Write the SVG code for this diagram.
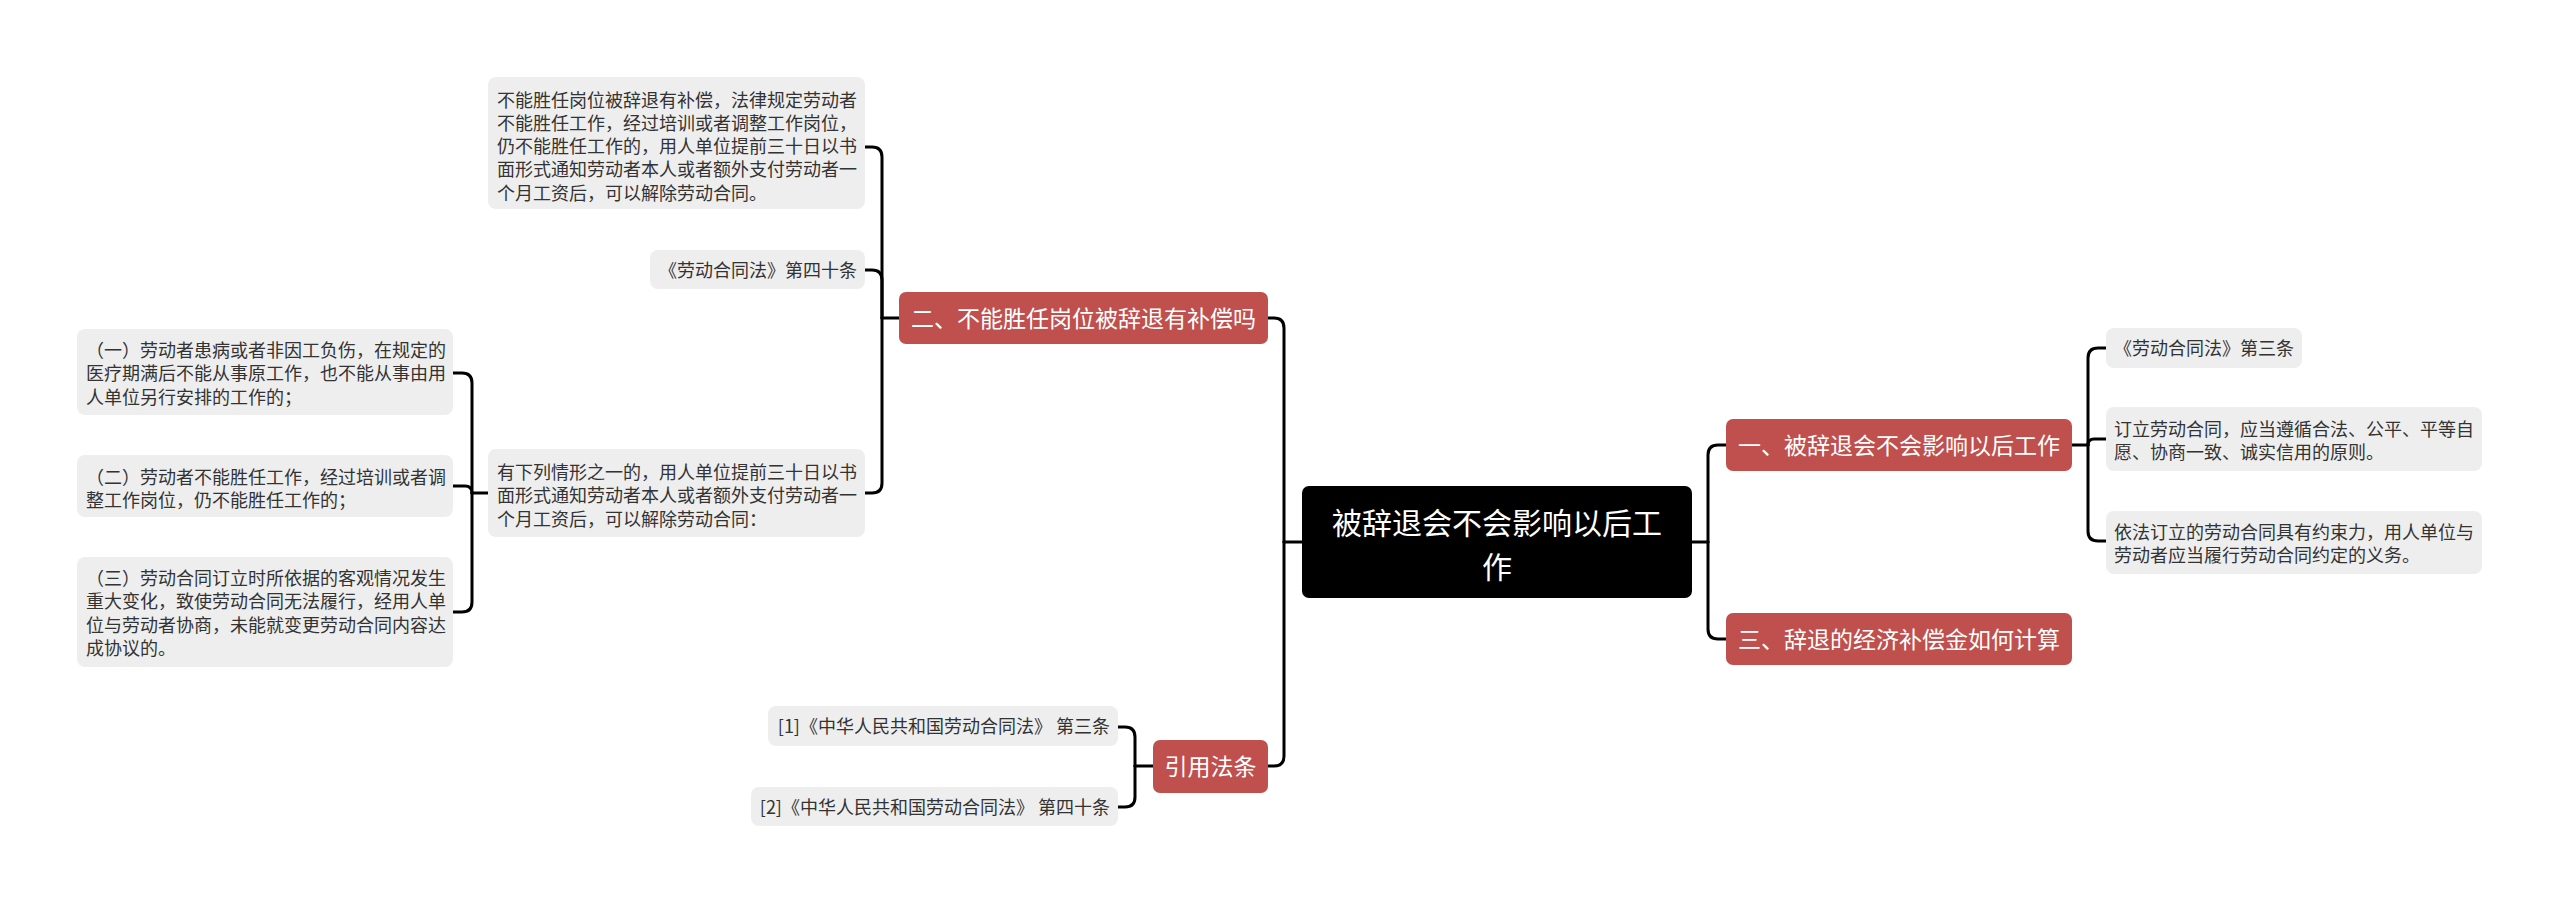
<svg xmlns="http://www.w3.org/2000/svg" width="2560" height="904" viewBox="0 0 2560 904">
<style>
text{font-family:"Noto Sans CJK SC","Noto Sans",sans-serif}
.leaf{fill:#eeeeee}
.lt{font-size:18px;fill:#333333}
.red{fill:#c0504d}
.rt{font-size:23px;fill:#ffffff;text-anchor:middle}
.ct{font-size:30px;fill:#ffffff;text-anchor:middle}
.ln{fill:none;stroke:#000000;stroke-width:3;stroke-linecap:round}
</style>
<rect width="2560" height="904" fill="#ffffff"/>
<g id="connectors">
<path class="ln" d="M1302,542 H1284"/>
<path class="ln" d="M1284,542 V328 Q1284,318 1274,318 H1268"/>
<path class="ln" d="M1284,542 V756 Q1284,766 1274,766 H1268"/>
<path class="ln" d="M1692,542 H1708"/>
<path class="ln" d="M1708,542 V455 Q1708,445 1718,445 H1726"/>
<path class="ln" d="M1708,542 V629 Q1708,639 1718,639 H1726"/>
<path class="ln" d="M899,318 H882"/>
<path class="ln" d="M882,318 V157 Q882,147 872,147 H865"/>
<path class="ln" d="M882,318 V280 Q882,270 872,270 H865"/>
<path class="ln" d="M882,318 V483 Q882,493 872,493 H865"/>
<path class="ln" d="M488,493 H472"/>
<path class="ln" d="M472,493 V383 Q472,373 462,373 H453"/>
<path class="ln" d="M472,493 Q472,486 465,486 H453"/>
<path class="ln" d="M472,493 V602 Q472,612 462,612 H453"/>
<path class="ln" d="M1153,766 H1135"/>
<path class="ln" d="M1135,766 V737 Q1135,727 1125,727 H1118"/>
<path class="ln" d="M1135,766 V797 Q1135,807 1125,807 H1118"/>
<path class="ln" d="M2072,445 H2088"/>
<path class="ln" d="M2088,445 V358 Q2088,348 2098,348 H2106"/>
<path class="ln" d="M2088,445 Q2088,439 2094,439 H2106"/>
<path class="ln" d="M2088,445 V531 Q2088,541 2098,541 H2106"/>
</g>
<g id="center">
<rect x="1302" y="486" width="390" height="112" rx="7" fill="#000000"/>
<text class="ct" x="1497" y="534">被辞退会不会影响以后工<tspan x="1497" dy="43.5">作</tspan></text>
</g>
<g id="b2">
<rect class="red" x="899" y="292" width="369" height="52" rx="7"/>
<text class="rt" x="1083.5" y="326.5">二、不能胜任岗位被辞退有补偿吗</text>
</g>
<g id="b2-leaf1">
<rect class="leaf" x="488" y="77" width="377" height="132" rx="8"/>
<text class="lt" x="497" y="106.5">不能胜任岗位被辞退有补偿，法律规定劳动者<tspan x="497" dy="23.3">不能胜任工作，经过培训或者调整工作岗位，</tspan><tspan x="497" dy="23.3">仍不能胜任工作的，用人单位提前三十日以书</tspan><tspan x="497" dy="23.3">面形式通知劳动者本人或者额外支付劳动者一</tspan><tspan x="497" dy="23.3">个月工资后，可以解除劳动合同。</tspan></text>
</g>
<g id="b2-leaf2">
<rect class="leaf" x="650" y="250" width="215" height="39" rx="8"/>
<text class="lt" x="857" y="276.5" text-anchor="end">《劳动合同法》第四十条</text>
</g>
<g id="b2-leaf3">
<rect class="leaf" x="488" y="449" width="377" height="88" rx="8"/>
<text class="lt" x="497" y="478.5">有下列情形之一的，用人单位提前三十日以书<tspan x="497" dy="23.5">面形式通知劳动者本人或者额外支付劳动者一</tspan><tspan x="497" dy="23.5">个月工资后，可以解除劳动合同：</tspan></text>
</g>
<g id="sub1">
<rect class="leaf" x="77" y="329" width="376" height="86" rx="8"/>
<text class="lt" x="86" y="356.5">（一）劳动者患病或者非因工负伤，在规定的<tspan x="86" dy="23.5">医疗期满后不能从事原工作，也不能从事由用</tspan><tspan x="86" dy="23.5">人单位另行安排的工作的；</tspan></text>
</g>
<g id="sub2">
<rect class="leaf" x="77" y="455" width="376" height="62" rx="8"/>
<text class="lt" x="86" y="483.5">（二）劳动者不能胜任工作，经过培训或者调<tspan x="86" dy="23.5">整工作岗位，仍不能胜任工作的；</tspan></text>
</g>
<g id="sub3">
<rect class="leaf" x="77" y="557" width="376" height="110" rx="8"/>
<text class="lt" x="86" y="584.5">（三）劳动合同订立时所依据的客观情况发生<tspan x="86" dy="23.5">重大变化，致使劳动合同无法履行，经用人单</tspan><tspan x="86" dy="23.5">位与劳动者协商，未能就变更劳动合同内容达</tspan><tspan x="86" dy="23.5">成协议的。</tspan></text>
</g>
<g id="ref">
<rect class="red" x="1153" y="740" width="115" height="53" rx="7"/>
<text class="rt" x="1210.5" y="775">引用法条</text>
</g>
<g id="ref1">
<rect class="leaf" x="768" y="706" width="350" height="40" rx="8"/>
<text class="lt" x="1110" y="733" text-anchor="end">[1]《中华人民共和国劳动合同法》 第三条</text>
</g>
<g id="ref2">
<rect class="leaf" x="751" y="787" width="367" height="39" rx="8"/>
<text class="lt" x="1110" y="813.5" text-anchor="end">[2]《中华人民共和国劳动合同法》 第四十条</text>
</g>
<g id="b1">
<rect class="red" x="1726" y="419" width="346" height="52" rx="7"/>
<text class="rt" x="1899" y="453.5">一、被辞退会不会影响以后工作</text>
</g>
<g id="b3">
<rect class="red" x="1726" y="613" width="346" height="52" rx="7"/>
<text class="rt" x="1899" y="647.5">三、辞退的经济补偿金如何计算</text>
</g>
<g id="b1-leaf1">
<rect class="leaf" x="2106" y="328" width="196" height="40" rx="8"/>
<text class="lt" x="2114" y="354.5">《劳动合同法》第三条</text>
</g>
<g id="b1-leaf2">
<rect class="leaf" x="2106" y="407" width="376" height="64" rx="8"/>
<text class="lt" x="2114" y="435.5">订立劳动合同，应当遵循合法、公平、平等自<tspan x="2114" dy="23.5">愿、协商一致、诚实信用的原则。</tspan></text>
</g>
<g id="b1-leaf3">
<rect class="leaf" x="2106" y="511" width="376" height="63" rx="8"/>
<text class="lt" x="2114" y="538.5">依法订立的劳动合同具有约束力，用人单位与<tspan x="2114" dy="23.5">劳动者应当履行劳动合同约定的义务。</tspan></text>
</g>
</svg>
